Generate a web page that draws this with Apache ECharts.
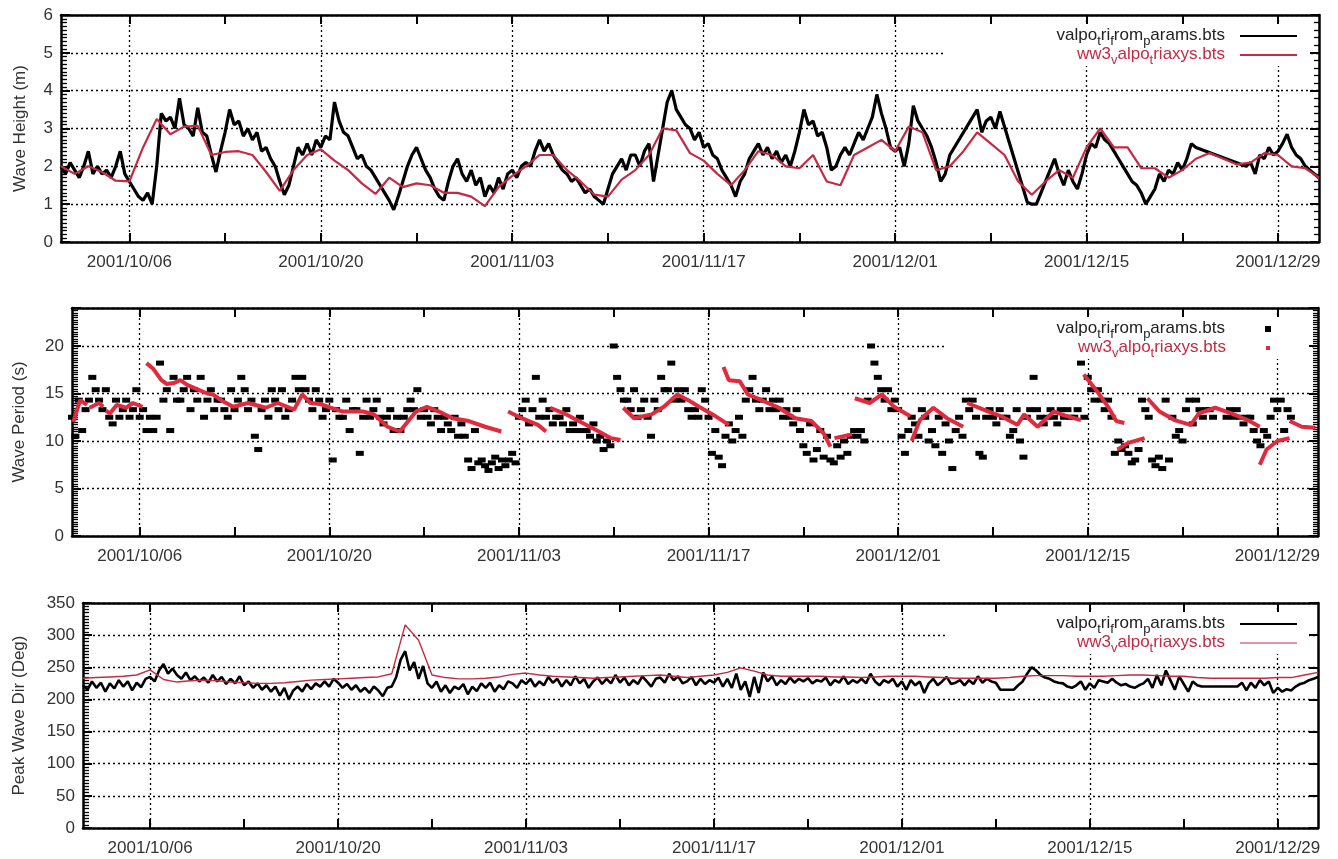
<!DOCTYPE html>
<html>
<head>
<meta charset="utf-8">
<title>Valparaiso buoy vs WW3</title>
<script src="https://cdn.jsdelivr.net/npm/echarts@6/dist/echarts.min.js"></script>
<style>
  html, body { margin: 0; padding: 0; background: #fff; }
  #chart { width: 1338px; height: 859px; }
</style>
</head>
<body>
<div id="chart"></div>
<script>
// time range: 2001/10/01 .. 2002/01/01 (x values are UTC milliseconds)
const START = Date.UTC(2001, 9, 1);
const END = Date.UTC(2002, 0, 1);
const DAY = 86400000;

const labelDates = ['2001-10-06', '2001-10-20', '2001-11-03', '2001-11-17', '2001-12-01', '2001-12-15', '2001-12-29'];
const tickDates = ['2001-10-06', '2001-10-13', '2001-10-20', '2001-10-27', '2001-11-03', '2001-11-10', '2001-11-17',
  '2001-11-24', '2001-12-01', '2001-12-08', '2001-12-15', '2001-12-22', '2001-12-29'];

// wave height (m), buoy every 8 h from 10/01
const hsBuoy = [
  2.0, 1.8, 2.1, 1.9, 1.7, 2.0, 2.4, 1.8, 2.0, 1.8, 1.9, 1.7, 2.0, 2.4, 1.8,
  1.6, 1.4, 1.2, 1.1, 1.3, 1.0, 2.0, 3.4, 3.2, 3.3, 3.0, 3.8, 3.1, 3.0, 2.8,
  3.55, 2.9, 2.8, 2.3, 1.85, 2.4, 2.9, 3.5, 3.1, 3.2, 2.8, 3.0, 2.7, 2.9, 2.4,
  2.5, 2.2, 2.0, 1.6, 1.25, 1.5, 2.0, 2.5, 2.3, 2.6, 2.3, 2.7, 2.5, 2.8, 2.7,
  3.7, 3.2, 2.9, 2.8, 2.5, 2.2, 2.3, 2.0, 1.9, 1.7, 1.5, 1.3, 1.1, 0.85, 1.2,
  1.6, 2.0, 2.3, 2.5, 2.2, 1.9, 1.7, 1.4, 1.2, 1.1, 1.6, 2.0, 2.2, 1.8, 1.6,
  1.9, 1.5, 1.7, 1.2, 1.5, 1.3, 1.7, 1.4, 1.8, 1.9, 1.7, 2.0, 2.1, 2.0, 2.4,
  2.7, 2.4, 2.6, 2.3, 2.1, 1.9, 1.8, 1.6, 1.7, 1.5, 1.3, 1.4, 1.2, 1.1, 1.0,
  1.4, 1.8, 2.0, 2.2, 1.9, 2.3, 2.3, 2.0, 2.4, 2.6, 1.6, 2.3, 3.0, 3.7, 4.0,
  3.5, 3.3, 3.1, 3.0, 2.7, 2.9, 2.5, 2.6, 2.3, 2.2, 1.9, 1.7, 1.5, 1.2, 1.6,
  1.8, 2.2, 2.4, 2.6, 2.3, 2.5, 2.2, 2.4, 2.1, 2.3, 2.0, 2.4, 2.9, 3.5, 3.1,
  3.2, 2.8, 2.9, 2.5, 1.9, 2.0, 2.3, 2.5, 2.3, 2.6, 2.9, 2.7, 3.0, 3.3, 3.9,
  3.4, 3.0, 2.5, 2.4, 2.5, 2.0, 2.6, 3.6, 3.2, 3.0, 2.8, 2.5, 2.1, 1.6, 1.8,
  2.3, null, null, null, null, null, 3.5, 2.9, 3.2, 3.3, 3.0, 3.45,
  null, null, null, null, null, 1.05, 1.0, 1.0, 1.3, 1.6, 1.9, 2.2, 1.8, 1.5, 1.9,
  1.6, 1.4, 1.8, 2.3, 2.6, 2.5, 2.9, 2.7, 2.6, 2.4, 2.2, 2.0, 1.8, 1.6, 1.5,
  1.3, 1.0, 1.2, 1.4, 1.8, 1.6, 1.9, 1.8, 2.1, 1.9, 2.2, 2.6,
  2.5, null, null, null, null, null, null, null, null, null, null, 2.0,
  2.1, 1.8, 2.3, 2.2, 2.5, 2.3, 2.4, 2.6, 2.85, 2.5, 2.3, 2.2, 2.0, 1.9, 1.8, 1.7
];
// wave height (m), model daily
const hsModel = [
  2.0, 1.8, 2.0, 1.85, 1.62, 1.6, 2.5, 3.25, 2.85, 3.05,
  3.07, 2.3, 2.38, 2.4, 2.3, 1.85, 1.35, 1.9, 2.3, 2.45,
  2.15, 1.9, 1.55, 1.27, 1.7, 1.45, 1.55, 1.5, 1.3, 1.3,
  1.2, 0.95, 1.45, 1.75, 2.0, 2.3, 2.3, 1.9, 1.6, 1.25,
  1.2, 1.65, 1.9, 2.3, 3.0, 2.95, 2.35, 2.15, 1.8, 1.5,
  1.9, 2.4, 2.3, 2.0, 1.95, 2.3, 1.6, 1.5, 2.3, 2.5,
  2.7, 2.4, 3.05, 2.9, 1.9, 2.0, 2.4, 2.9, 2.6, 2.3,
  1.6, 1.25, 1.6, 1.9, 1.7, 2.5, 3.0, 2.5, 2.5, 1.95,
  1.95, 1.7, 1.9, 2.2, 2.35, 2.2, 2.05, 2.1, 2.35, 2.3,
  2.0, 1.95, 1.7
];

// wave period (s), buoy every 6 h from 10/01
const tpBuoy = [
  12.5, 10.5, 14.3, 11.1, 13.3, 14.3, 16.7, 15.4, 14.3, 13.3, 15.4, 12.5, 11.8, 14.3, 12.5, 13.3,
  14.3, 12.5, 13.3, 15.4, 12.5, 13.3, 11.1, 12.5, 11.1, 12.5, 18.2, 14.3, 15.4, 11.1, 16.7, 14.3,
  14.3, 15.4, 16.7, 13.3, 15.4, 14.3, 16.7, 12.5, 14.3, 15.4, 13.3, 14.3, 14.3, 13.3, 12.5, 15.4,
  13.3, 14.3, 16.7, 15.4, 13.3, 14.3, 10.5, 9.1, 13.3, 14.3, 12.5, 15.4, 14.3, 13.3, 15.4, 12.5,
  13.3, 14.3, 16.7, 15.4, 16.7, 15.4, 14.3, 13.3, 15.4, 14.3, 12.5, 13.3, 14.3, 8.0, 13.3, 12.5,
  12.5, 14.3, 11.1, 13.3, 13.3, 8.7, 12.5, 14.3, 12.5, 13.3, 14.3, 12.5, 11.8, 12.5, 13.3, 11.1,
  12.5, 11.1, 12.5, 13.3, 14.3, 13.3, 15.4, 12.5, 13.3, 12.5, 11.8, 13.3, 12.5, 11.1, 12.5, 11.8,
  11.1, 12.5, 10.5, 11.8, 10.5, 8.0, 7.1, 11.1, 7.7, 8.0, 7.4, 6.9, 7.7, 8.3, 7.1, 8.0,
  7.4, 8.0, 8.7, 7.7, 12.5, 13.3, 14.3, 11.8, 13.3, 16.7, 12.5, 14.3, 12.5, 13.3, 11.8, 12.5,
  12.5, 11.8, 13.3, 11.1, 11.8, 11.1, 12.5, 11.1, 11.1, 10.5, 11.8, 10.0, 10.5, 9.1, 10.0, 9.5,
  20.0, 16.7, 15.4, 14.3, 14.3, 13.3, 15.4, 12.5, 13.3, 14.3, 12.5, 10.5, 14.3, 13.3, 16.7, 15.4,
  15.4, 18.2, 14.3, 15.4, 14.3, 15.4, 13.3, 12.5, 13.3, 12.5, 15.4, 14.3, 12.5, 8.7, 11.1, 8.3,
  7.4, 10.5, 11.8, 10.0, 11.1, 12.5, 10.5, 14.3, 15.4, 16.7, 14.3, 13.3, 14.3, 15.4, 13.3, 14.3,
  13.3, 14.3, 12.5, 13.3, 12.5, 11.8, 13.3, 11.1, 9.5, 8.7, 11.8, 8.0, 9.1, 11.1, 8.3, 10.5,
  8.0, 7.7, 9.5, 8.3, 10.0, 8.7, 10.5, 11.1, 10.5, 11.1, 10.0, 14.3, 20.0, 18.2, 16.7, 15.4,
  14.3, 15.4, 13.3, 14.3, 13.3, 10.5, 8.7, 11.1, 12.5, 11.8, 10.5, 13.3, 12.5, 10.0, 11.1, 9.5,
  12.5, 8.7, 11.8, 10.0, 7.1, 11.1, 12.5, 10.5, 14.3, 13.3, 14.3, 12.5, 8.7, 8.3, 12.5, 13.3,
  12.5, 11.8, 13.3, 12.5, 12.5, 10.5, 11.1, 13.3, 10.0, 8.3, 12.5, 13.3, 16.7, 13.3, 12.5, 11.8,
  12.5, 13.3, 12.5, 11.8, 13.3, 12.5, 13.3, 12.5, 12.5, 13.3, 18.2, 12.5, 16.7, 15.4, 14.3, 15.4,
  14.3, 13.3, 14.3, 12.5, 8.7, 10.0, 9.1, 9.5, 8.7, 7.7, 8.0, 9.1, 14.3, 13.3, 12.5, 8.0,
  7.4, 8.3, 7.1, 14.3, 8.0, 12.5, 10.5, 11.1, 10.0, 13.3, 14.3, 11.8, 14.3, 13.3, 12.5, 13.3,
  13.3, 12.5, null, null, null, 12.5, 13.3, 12.5, 13.3, 12.5, 11.8, 12.5, 12.5, 11.1, 10.0, 9.5,
  11.1, 10.5, 12.5, 14.3, 13.3, 14.3, 11.1, 13.3, 12.5, null, null, null
];
// wave period (s), model: [day from 10/01, value], null = break between runs
const tpModel = [
  [0.1, 12.0], [0.6, 14.3], [1.1, 13.8], null,
  [1.3, 13.5], [2.0, 14.0], [2.3, 13.6], null,
  [2.5, 13.2], [2.8, 12.9], [3.3, 13.8], [4.0, 13.5], [4.5, 14.0], [5.2, 13.6], null,
  [5.5, 18.2], [6.0, 17.6], [6.6, 16.4], [7.0, 16.0], [7.5, 16.1], [8.0, 16.4], [8.5, 15.9], [9.3, 15.4],
  [10.0, 15.0], [10.4, 14.9], [11.0, 14.3], [11.9, 13.6], [13.0, 14.0], [14.3, 13.5], [15.2, 14.0],
  [16.4, 13.3], [17.0, 14.9], [17.6, 14.0], [18.3, 13.9], [19.1, 13.5], [20.0, 13.1], [21.5, 13.1],
  [22.3, 12.8], [23.3, 11.5], [24.2, 11.0], [25.4, 13.1], [26.2, 13.6], [27.1, 13.1], [28.1, 12.4],
  [29.3, 12.1], [30.5, 11.5], [31.7, 11.0], null,
  [32.2, 13.1], [33.2, 12.4], [34.4, 11.7], [35.0, 11.0], null,
  [35.3, 13.5], [36.5, 12.8], [37.7, 11.9], [38.9, 11.0], [39.8, 10.3], [40.5, 10.1], null,
  [40.7, 13.5], [41.5, 12.4], [42.8, 12.8], [43.7, 13.6], [44.7, 14.9], [45.5, 14.3], [46.3, 13.6],
  [47.3, 12.8], [48.5, 11.7], null,
  [48.1, 17.8], [48.5, 16.4], [49.3, 16.3], [49.9, 14.9], [50.9, 14.3], [52.2, 13.5], [53.4, 12.4],
  [54.6, 12.1], [55.5, 10.8], [56.0, 9.4], null,
  [56.3, 10.3], [57.6, 10.7], null,
  [57.8, 14.5], [58.9, 14.0], [59.8, 14.9], [60.7, 13.6], [61.9, 12.6], null,
  [62.0, 10.0], [62.6, 12.2], [63.6, 13.5], [64.6, 12.4], [65.8, 11.5], null,
  [66.1, 14.0], [67.3, 13.3], [68.6, 12.6], [69.8, 11.7], [70.3, 12.8], [71.3, 11.5], [72.5, 13.1],
  [73.5, 12.6], [74.5, 12.2], null,
  [74.7, 17.0], [75.6, 15.4], [76.5, 13.6], [77.1, 12.1], [77.7, 11.9], null,
  [77.2, 9.1], [78.0, 9.8], [79.2, 10.3], null,
  [79.4, 14.5], [80.3, 13.1], [81.4, 12.2], [82.6, 11.7], [83.2, 12.9], [84.4, 13.5], [85.6, 12.9],
  [86.8, 12.2], [87.7, 11.5], null,
  [87.7, 7.5], [88.2, 9.1], [89.0, 10.0], [89.9, 10.3], null,
  [89.9, 12.1], [90.8, 11.5], [91.8, 11.4]
];

// peak wave direction (deg), buoy every 8 h from 10/01
const dirBuoy = [
  222, 215, 228, 218, 226, 212, 225, 217, 230, 220, 228, 214, 226, 219, 232,
  235, 228, 245, 255, 240, 248, 238, 232, 242, 230, 236, 228, 234, 226, 238,
  228, 235, 224, 232, 225, 236, 222, 228, 218, 225, 215, 222, 212, 220, 206,
  218, 200, 214, 220, 212, 224, 216, 225, 220, 228, 220, 232, 226, 218, 224,
  215, 222, 212, 218, 210, 220, 214, 205, 218, 220, 235, 262, 275, 245, 258,
  232, 252, 225, 218, 228, 212, 222, 210, 220, 216, 224, 208, 220, 213, 225,
  218, 226, 212, 222, 216, 228, 225, 218, 230, 224, 232, 220, 228, 222, 235,
  226, 232, 220, 230, 222, 236, 225, 232, 218, 228, 234, 224, 232, 225, 238,
  226, 234, 222, 230, 224, 236, 228, 220, 232, 234, 226, 240, 230, 236, 225,
  228, 235, 222, 232, 224, 230, 226, 234, 220, 232, 218, 240, 215, 228, 204,
  235, 210, 242, 228, 236, 222, 230, 224, 234, 226, 232, 228, 233, 225, 230,
  228, 234, 222, 230, 226, 236, 224, 230, 226, 232, 225, 240, 228, 222, 230,
  226, 232, 220, 228, 215, 230, 222, 228, 210, 225, 232, 222, 228, 235, 224,
  226, 230, 222, 230, 224, 236, 226, 232, 228, 226, 215, 215, 215, 215, 222,
  228, 240, 250, 245, 238, 234, 232, 228, 226, 225, 220, 218, 222, 228, 215,
  225, 218, 230, 228, 226, 232, 226, 222, 224, 220, 218, 222, 225, 232, 218,
  238, 222, 245, 230, 215, 236, 224, 212, 228, 222, 220, null, null, null, null,
  null, null, null, 220, 226, 214, 226, 218, 230, 222, 228, 210, 218, 212, 216,
  214, 220, 224, 226, 230, 232, 235
];
// peak wave direction (deg), model daily
const dirModel = [
  233, 234, 235, 236, 238, 246, 231, 227, 229, 230,
  229, 227, 226, 225, 225, 226, 228, 230, 231, 232,
  233, 234, 235, 240, 316, 292, 238, 234, 232, 232,
  233, 235, 239, 241, 238, 236, 235, 234, 233, 234,
  235, 236, 237, 238, 236, 234, 236, 238, 242, 249,
  244, 238, 236, 236, 236, 236, 235, 235, 234, 235,
  236, 236, 236, 235, 234, 233, 233, 233, 233, 234,
  236, 237, 237, 237, 236, 236, 236, 237, 238, 238,
  237, 236, 236, 234, 233, 233, 233, 233, 233, 234,
  234, 238, 242
];

const FONT = "'Liberation Sans', Arial, sans-serif";
const RED = '#c42a44';
const RED_PT = '#e02a3e';

const regular = (vals, perDay) => vals.map((v, i) => [START + i * DAY / perDay, v]);
const pairs = (list) => {
  let last = START;
  return list.map((p) => {
    if (!p) return [last, null];
    last = START + p[0] * DAY;
    return [last, p[1]];
  });
};
const pad = (n) => (n < 10 ? '0' + n : '' + n);
const fmtDate = (v) => {
  const d = new Date(v);
  return d.getUTCFullYear() + '/' + pad(d.getUTCMonth() + 1) + '/' + pad(d.getUTCDate());
};
const labelVals = labelDates.map((s) => Date.parse(s));
const tickVals = tickDates.map((s) => Date.parse(s));

const grids = [
  { left: 61, top: 15, width: 1258, height: 227 },
  { left: 72, top: 308, width: 1246, height: 228 },
  { left: 83, top: 603, width: 1235, height: 225 }
];
const yCfg = [
  { min: 0, max: 6, interval: 1, name: 'Wave Height (m)', gap: 32, minorL: 10, minorR: 5 },
  { min: 0, max: 24, interval: 5, name: 'Wave Period (s)', gap: 44, minorL: 20, minorR: 20 },
  { min: 0, max: 350, interval: 50, name: 'Peak Wave Dir (Deg)', gap: 55, minorL: 10, minorR: 0 }
];

const black = { color: '#000', width: 2.5 };
const dotted = { color: '#000', type: [2, 3], width: 1.3 };
const lab = { fontSize: 17, color: '#333', fontFamily: FONT };

const xAxis = [];
const yAxis = [];
grids.forEach((g, p) => {
  const base = { type: 'value', gridIndex: p, min: START, max: END };
  xAxis.push({
    ...base, position: 'bottom',
    axisLine: { onZero: false, lineStyle: black },
    axisTick: { inside: true, length: 9, customValues: tickVals, lineStyle: { color: '#000', width: 2 } },
    axisLabel: { ...lab, customValues: labelVals, formatter: fmtDate, margin: 12 },
    splitLine: { show: false }
  });
  xAxis.push({
    ...base, position: 'top',
    axisLine: { onZero: false, lineStyle: black },
    axisTick: { inside: true, length: 9, customValues: tickVals, lineStyle: { color: '#000', width: 2 } },
    axisLabel: { show: false },
    splitLine: { show: false }
  });
  // hidden axis, only for the two-week vertical grid lines
  xAxis.push({
    ...base, position: 'bottom',
    axisLine: { show: false, onZero: false },
    axisTick: { show: false, customValues: labelVals },
    axisLabel: { show: false },
    splitLine: { show: true, lineStyle: dotted }
  });
  const c = yCfg[p];
  yAxis.push({
    type: 'value', gridIndex: p, position: 'left', min: c.min, max: c.max, interval: c.interval,
    name: c.name, nameLocation: 'middle', nameGap: c.gap,
    nameTextStyle: { fontSize: 17, color: '#333', fontFamily: FONT },
    axisLine: { show: true, onZero: false, lineStyle: black },
    axisTick: { inside: true, length: 9, lineStyle: { color: '#000', width: 2 } },
    minorTick: { show: true, splitNumber: c.minorL, length: 6, lineStyle: { color: '#000', width: 1.3 } },
    axisLabel: { ...lab, margin: 8, formatter: (v) => (v % c.interval === 0 ? String(v) : '') },
    splitLine: { show: true, lineStyle: dotted }
  });
  yAxis.push({
    type: 'value', gridIndex: p, position: 'right', min: c.min, max: c.max, interval: c.interval,
    axisLine: { show: true, onZero: false, lineStyle: black },
    axisTick: { inside: true, length: 9, lineStyle: { color: '#000', width: 2 } },
    minorTick: { show: c.minorR > 0, splitNumber: c.minorR || 5, length: 5, lineStyle: { color: '#000', width: 1.3 } },
    axisLabel: { show: false },
    splitLine: { show: false }
  });
});

const series = [
  { name: 'hsBuoy', type: 'line', xAxisIndex: 0, yAxisIndex: 0, data: regular(hsBuoy, 3),
    showSymbol: false, connectNulls: true, lineStyle: { color: '#000', width: 3.2 }, itemStyle: { color: '#000' } },
  { name: 'hsModel', type: 'line', xAxisIndex: 0, yAxisIndex: 0, data: regular(hsModel, 1),
    showSymbol: false, lineStyle: { color: RED, width: 2.2 }, itemStyle: { color: RED } },
  { name: 'tpBuoy', type: 'scatter', xAxisIndex: 3, yAxisIndex: 2, data: regular(tpBuoy, 4),
    symbol: 'rect', symbolSize: [8, 5], itemStyle: { color: '#000', opacity: 1 } },
  { name: 'tpModel', type: 'line', xAxisIndex: 3, yAxisIndex: 2, data: pairs(tpModel),
    showSymbol: false, connectNulls: false, lineStyle: { color: RED_PT, width: 4 }, itemStyle: { color: RED_PT } },
  { name: 'dirBuoy', type: 'line', xAxisIndex: 6, yAxisIndex: 4, data: regular(dirBuoy, 3),
    showSymbol: false, connectNulls: true, lineStyle: { color: '#000', width: 2.6 }, itemStyle: { color: '#000' } },
  { name: 'dirModel', type: 'line', xAxisIndex: 6, yAxisIndex: 4, data: regular(dirModel, 1),
    showSymbol: false, lineStyle: { color: RED, width: 1.4 }, itemStyle: { color: RED } }
];

// legend text in gnuplot "enhanced" style: _x makes a subscript
const legendText = {
  buoy: '{n|valpo}{s|t}{n|ri}{s|f}{n|rom}{s|p}{n|arams.bts}',
  model: '{n|ww3}{s|v}{n|alpo}{s|t}{n|riaxys.bts}'
};
const rich = {
  n: { fontSize: 17, lineHeight: 18, verticalAlign: 'top', fontFamily: FONT },
  s: { fontSize: 13, lineHeight: 14, padding: [8, 0, 0, 0], verticalAlign: 'top', fontFamily: FONT },
  g: { width: 10 },
  h: { width: 35 }
};
const legendItems = [
  { p: 0, row: 0, name: 'hsBuoy', kind: 'buoy', w: 57, h: 2, right: 41, color: '#222' },
  { p: 0, row: 1, name: 'hsModel', kind: 'model', w: 57, h: 2, right: 41, color: RED },
  { p: 1, row: 0, name: 'tpBuoy', kind: 'buoy', w: 6, h: 6, right: 67, color: '#222' },
  { p: 1, row: 1, name: 'tpModel', kind: 'model', w: 4, h: 4, right: 68, color: RED },
  { p: 2, row: 0, name: 'dirBuoy', kind: 'buoy', w: 57, h: 2, right: 41, color: '#222' },
  { p: 2, row: 1, name: 'dirModel', kind: 'model', w: 57, h: 1, right: 41, color: RED }
];
const legend = legendItems.map((it) => ({
  data: [{ name: it.name, icon: 'rect', textStyle: { color: it.color } }],
  right: it.right,
  top: grids[it.p].top + 12 + it.row * 19,
  align: 'right',
  padding: 0,
  itemWidth: it.w,
  itemHeight: it.h,
  selectedMode: false,
  formatter: () => legendText[it.kind] + (it.p === 1 ? '{h| }' : '{g| }'),
  textStyle: { fontFamily: FONT, fontSize: 17, rich: rich }
}));

// white key box, as gnuplot blanks the grid under the key
const graphic = grids.map((g) => ({
  type: 'rect', z: 1,
  shape: { x: 946, y: g.top + 10, width: 363, height: 41 },
  style: { fill: '#fff' }
}));

const chart = echarts.init(document.getElementById('chart'), null, { renderer: 'canvas' });
chart.setOption({
  animation: false,
  backgroundColor: '#fff',
  textStyle: { fontFamily: FONT },
  grid: grids,
  xAxis: xAxis,
  yAxis: yAxis,
  legend: legend,
  graphic: graphic,
  series: series
});
</script>
</body>
</html>
